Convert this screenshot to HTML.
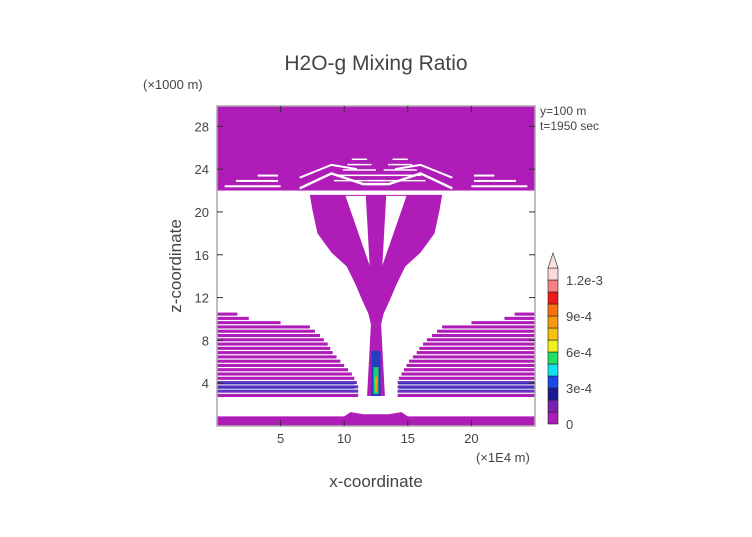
<!DOCTYPE html>
<html><head><meta charset="utf-8"><style>
body{margin:0;background:#fff;width:752px;height:532px;overflow:hidden}
svg text{font-family:"Liberation Sans",sans-serif;fill:#444}
</style></head><body>
<svg id="c" width="752" height="532">
<text x="376" y="70" font-size="21" text-anchor="middle">H2O-g Mixing Ratio</text>
<text x="143" y="89" font-size="13">(×1000 m)</text>
<text x="540" y="115" font-size="12">y=100 m</text>
<text x="540" y="130" font-size="12">t=1950 sec</text>
<text x="476" y="462" font-size="13">(×1E4 m)</text>
<text x="376" y="487" font-size="17" text-anchor="middle">x-coordinate</text>
<text transform="translate(181,266) rotate(-90)" font-size="17" text-anchor="middle">z-coordinate</text>
<g id="plot"></g>
<g id="axes"></g>
<g id="cbar"></g>
</svg>
<script>
const xTicks=[5,10,15,20];
const yTicks=[4,8,12,16,20,24,28];
const cbLevels=[0,1e-4,2e-4,3e-4,4e-4,5e-4,6e-4,7e-4,8e-4,9e-4,1e-3,1.1e-3,1.2e-3,1.3e-3];
const cbColors=["#a81cb8","#7a20b0","#1a1a98","#1848e8","#10e0f0","#20e060","#f0f020","#f8c010","#f89810","#f87010","#f01818","#f88080","#fcd8d8"];
const cbLabels=["0","3e-4","6e-4","9e-4","1.2e-3"];
const cbLabelVals=[0,3e-4,6e-4,9e-4,1.2e-3];
// plume outline (x in 1E4 m, z in km)
const plumeZ=[21.6,20.2,18,16.2,14.9,13.2,11.8,10.5,9.5];
const plumeL=[7.3,7.5,7.9,9.0,10.2,10.9,11.4,11.9,12.1];
const plumeR=[17.7,17.5,17.1,16.0,14.8,14.1,13.6,13.1,12.9];
// lower stripes extent
const stripeZ=[10.6,10.2,9.8,9.4,9.0,8.6,8.2,7.8,7.4,7.0,6.6,6.2,5.8,5.4,5.0,4.6,4.2,3.8,3.4,3.0];
const stripeL=[1.6,2.5,5,7.3,7.7,8.1,8.4,8.7,8.9,9.1,9.4,9.7,10,10.3,10.6,10.8,11,11.1,11.1,11.1];
const stripeR=[23.4,22.6,20,17.7,17.3,16.9,16.5,16.2,15.9,15.7,15.4,15.1,14.9,14.7,14.5,14.3,14.2,14.2,14.2,14.2];
const X0=217,X1=535,Z0=426,Z1=106;
const sx=v=>X0+v*(X1-X0)/25, sz=v=>Z0-v*(Z0-Z1)/29.9;
const NS="http://www.w3.org/2000/svg";
function mk(t,a,p){const e=document.createElementNS(NS,t);for(const k in a)e.setAttribute(k,a[k]);p.appendChild(e);return e;}
const P=document.getElementById('plot'),A=document.getElementById('axes'),C=document.getElementById('cbar');
const M="#b01cb8";
let e;
e=mk('rect',{x:X0,y:sz(29.9),width:X1-X0,height:sz(22)-sz(29.9),fill:M},P);


[[22.4,0.6,5],[22.9,1.5,4.8],[23.4,3.2,4.8]].forEach(([z,a,b])=>{mk('rect',{x:sx(a),y:sz(z)-1,width:sx(b)-sx(a),height:2,fill:"#fff"},P);mk('rect',{x:sx(25-b),y:sz(z)-1,width:sx(b)-sx(a),height:2,fill:"#fff"},P);});
mk('path',{d:`M${sx(6.5)} ${sz(22.2)} L${sx(9)} ${sz(23.6)} Q${sx(10.5)} ${sz(23)} ${sx(11.5)} ${sz(22.6)} L${sx(13.5)} ${sz(22.6)} Q${sx(14.5)} ${sz(23)} ${sx(16)} ${sz(23.6)} L${sx(18.5)} ${sz(22.2)}`,stroke:"#fff","stroke-width":2.5,fill:"none"},P);
mk('path',{d:`M${sx(6.5)} ${sz(23.2)} L${sx(9)} ${sz(24.4)} L${sx(11)} ${sz(24)} M${sx(14)} ${sz(24)} L${sx(16)} ${sz(24.4)} L${sx(18.5)} ${sz(23.2)}`,stroke:"#fff","stroke-width":2,fill:"none"},P);
[0,1,2,3,4].forEach(i=>{const z=24.9-i*0.5;mk('rect',{x:sx(10.6-i*0.35),y:sz(z)-1,width:sx(1.2+i*0.7)-sx(0),height:1.5,fill:"#fff"},P);mk('rect',{x:sx(14.4-i*0.35-0.6),y:sz(z)-1,width:sx(1.2+i*0.7)-sx(0),height:1.5,fill:"#fff"},P);});
// plume
let d="M"+plumeZ.map((z,i)=>sx(plumeL[i])+" "+sz(z)).join(" L")+" L"+plumeZ.slice().reverse().map((z,i)=>sx(plumeR[plumeZ.length-1-i])+" "+sz(z)).join(" L")+"Z";
e=mk('path',{d:d,fill:M},P);


mk('path',{d:`M${sx(10.1)} ${sz(21.5)} L${sx(12)} ${sz(15)} L${sx(11.7)} ${sz(21.5)}Z M${sx(13.3)} ${sz(21.5)} L${sx(13)} ${sz(15)} L${sx(14.9)} ${sz(21.5)}Z`,fill:"#fff"},P);
// stripes
stripeZ.forEach((z,i)=>{
 const h=sz(z-0.4)-sz(z)-1.2;
 const col=(z<=4.3&&z>=3.3)?"#6a30c0":M;
 e=mk('rect',{x:X0,y:sz(z),width:sx(stripeL[i])-X0,height:h,fill:col},P);
 
 
 e=mk('rect',{x:sx(stripeR[i]),y:sz(z),width:X1-sx(stripeR[i]),height:h,fill:col},P);
 
 
});
[3.6,4.0].forEach(z=>{mk('rect',{x:X0,y:sz(z),width:sx(10.8)-X0,height:1.2,fill:"#2030b0"},P);mk('rect',{x:sx(14.3),y:sz(z),width:X1-sx(14.3),height:1.2,fill:"#2030b0"},P);});
// core column
e=mk('path',{d:`M${sx(12.1)} ${sz(9.5)} L${sx(12.9)} ${sz(9.5)} L${sx(13.2)} ${sz(2.8)} L${sx(11.8)} ${sz(2.8)}Z`,fill:M},P);


mk('rect',{x:sx(12.15),y:sz(7),width:sx(0.7)-sx(0),height:sz(2.8)-sz(7),fill:"#2040c0"},P);
mk('rect',{x:sx(12.3),y:sz(5.5),width:sx(0.4)-sx(0),height:sz(3)-sz(5.5),fill:"#20d070"},P);
mk('rect',{x:sx(12.42),y:sz(4.6),width:sx(0.16)-sx(0),height:sz(3.2)-sz(4.6),fill:"#f8a010"},P);
// bottom band
e=mk('path',{d:`M${X0} ${Z0} L${X0} ${sz(0.9)} L${sx(10)} ${sz(0.9)} L${sx(10.5)} ${sz(1.3)} L${sx(11.5)} ${sz(1.1)} L${sx(13.5)} ${sz(1.1)} L${sx(14.5)} ${sz(1.3)} L${sx(15)} ${sz(0.9)} L${X1} ${sz(0.9)} L${X1} ${Z0}Z`,fill:M},P);


// frame & ticks
e=mk('rect',{x:X0,y:Z1,width:X1-X0,height:Z0-Z1,fill:"none",stroke:"#aaa","stroke-width":1.5},A);


xTicks.forEach(v=>{mk('line',{x1:sx(v),x2:sx(v),y1:Z0,y2:Z0-6,stroke:"#333"},A);mk('line',{x1:sx(v),x2:sx(v),y1:Z1,y2:Z1+6,stroke:"#333"},A);
 e=mk('text',{x:sx(v),y:443,"font-size":13,"text-anchor":"middle"},A);e.textContent=v;
 
 });
yTicks.forEach(v=>{mk('line',{x1:X0,x2:X0+6,y1:sz(v),y2:sz(v),stroke:"#333"},A);mk('line',{x1:X1,x2:X1-6,y1:sz(v),y2:sz(v),stroke:"#333"},A);
 e=mk('text',{x:209,y:sz(v)+5,"font-size":13,"text-anchor":"end"},A);e.textContent=v;
 
 });
// colorbar
const cy=v=>424-v/1e-4*12;
cbColors.forEach((c,i)=>{e=mk('rect',{x:548,y:cy(cbLevels[i+1]),width:10,height:cy(cbLevels[i])-cy(cbLevels[i+1]),fill:c,stroke:"#222","stroke-width":0.6},C);
 
 });
e=mk('path',{d:`M548 ${cy(1.3e-3)} L553 ${cy(1.3e-3)-15} L558 ${cy(1.3e-3)}Z`,fill:"#fce0e0",stroke:"#222","stroke-width":0.6},C);


cbLabels.forEach((t,i)=>{e=mk('text',{x:566,y:cy(cbLabelVals[i])+5,"font-size":13},C);e.textContent=t;
 
 });
</script>
</body></html>
